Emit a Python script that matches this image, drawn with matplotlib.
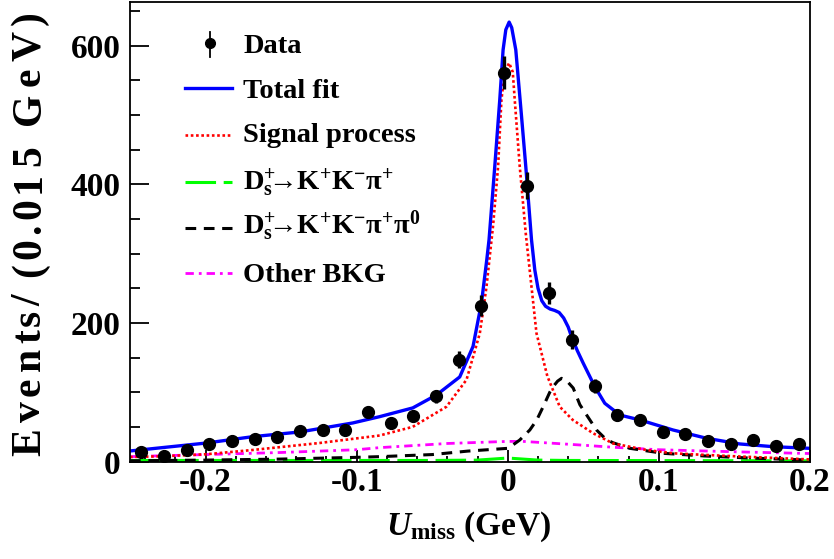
import numpy as np
import matplotlib
matplotlib.use("Agg")
import matplotlib.pyplot as plt
from matplotlib.lines import Line2D
from matplotlib.ticker import MultipleLocator
from matplotlib.font_manager import FontProperties

plt.rcParams['font.family'] = ['Liberation Serif', 'DejaVu Serif']
plt.rcParams['font.weight'] = 'bold'
plt.rcParams['axes.unicode_minus'] = False
plt.rcParams['mathtext.fontset'] = 'custom'
plt.rcParams['mathtext.rm'] = 'Liberation Serif:bold'
plt.rcParams['mathtext.bf'] = 'Liberation Serif:bold'
plt.rcParams['mathtext.it'] = 'Liberation Serif:italic:bold'
plt.rcParams['mathtext.fallback'] = 'stix'

# ---------------- data ----------------
bin_centers = [-0.2425 + 0.015 * i for i in range(30)]
counts = [14, 8, 17, 25, 30, 33, 36, 44, 46, 46, 71, 56, 65, 94, 147,
          225, 561, 398, 243, 176, 109, 67, 60, 42, 40, 30, 25, 31, 22, 25]

total_x = [-0.25, -0.2437, -0.1993, -0.1689, -0.1377, -0.1026, -0.0848, -0.0629,
           -0.0472, -0.0318, -0.0230, -0.0174, -0.0139, -0.0124, -0.0086, -0.0053,
           -0.0031, -0.0013, 0.0009, 0.0026, 0.0053, 0.0091, 0.0119, 0.0157, 0.0179,
           0.0200, 0.0225, 0.0250, 0.0280, 0.0310, 0.0340, 0.0370, 0.0400, 0.0422,
           0.0460, 0.0499, 0.0576, 0.0642, 0.0742,
           0.0874, 0.1093, 0.1316, 0.1536, 0.1755, 0.2]
total_y = [15.2, 16.6, 26.7, 35.8, 42.6, 55.6, 64.7, 77.3,
           96, 122, 166, 229, 291, 320, 426, 522,
           594, 623, 634, 626, 594, 498, 426, 320, 276,
           250, 232, 224, 220, 218, 215, 207, 194, 180,
           160, 142, 108, 84, 67,
           60, 45.5, 33.5, 25.3, 21.4, 19]

signal_x = [-0.25, -0.2285, -0.1993, -0.1689, -0.1245, -0.0848, -0.0629, -0.0406,
            -0.0273, -0.0185, -0.0141, -0.0097, -0.0064, -0.0042, -0.0020, 0.0009,
            0.0033, 0.0046, 0.0079, 0.0119, 0.0157, 0.0190, 0.0262, 0.0344, 0.0430,
            0.0565, 0.0697, 0.0919, 0.1095, 0.1316, 0.1536, 0.2]
signal_y = [6.5, 7.5, 10.5, 16.6, 26.7, 37.5, 50, 79,
            118, 185, 252, 341, 426, 522, 562, 575,
            562, 522, 426, 329, 252, 185, 123, 79, 60,
            40.7, 26, 16.6, 11.8, 9.4, 7.2, 3]

kkpi_x = [-0.25, -0.05, -0.02, -0.01, 0.0, 0.01, 0.02, 0.04, 0.2]
kkpi_y = [1.5, 1.5, 2, 3.5, 5, 3.5, 2, 1.5, 1]

kkpipi0_x = [-0.25, -0.2, -0.15, -0.1, -0.0848, -0.05, -0.0265, 0.0, 0.0035,
             0.0079, 0.0146, 0.0192, 0.0234, 0.0278, 0.0300, 0.0330, 0.0356, 0.0380,
             0.0400, 0.0433, 0.0477, 0.0519, 0.0587, 0.0650, 0.0697, 0.0808, 0.1029,
             0.13, 0.16, 0.2]
kkpipi0_y = [1, 2, 3.5, 6, 7, 10, 15, 19, 24,
             31, 45.5, 60, 79, 100, 108, 116, 120, 118,
             114, 106, 82, 68, 45.5, 32, 27, 19, 11.8,
             8, 5, 2]

other_x = [-0.25, -0.2, -0.15, -0.1, -0.0848, -0.04, 0.0, 0.01, 0.025, 0.048,
           0.07, 0.1, 0.13, 0.16, 0.2]
other_y = [7, 10, 13, 17, 20, 26, 29, 29, 27, 23.8,
           20.5, 17, 15.2, 13.5, 11.5]

legend_labels = ['Data', 'Total fit', 'Signal process',
                 r'D$_{\rm s}^{+}\!\!$→K$^{+}$K$^{-}$π$^{+}$',
                 r'D$_{\rm s}^{+}\!\!$→K$^{+}$K$^{-}$π$^{+}$π$^{0}$',
                 'Other BKG']
y_title = 'Events/ (0.015 GeV)'
x_title = r'$\mathit{U}_{\mathrm{miss}}$ (GeV)'

# ---------------- figure ----------------
W, H = 834, 559
fig = plt.figure(figsize=(W / 100, H / 100), dpi=100)
ax_l, ax_r, ax_t, ax_b = 130, 810, 2, 461.5
ax = fig.add_axes([ax_l / W, 1 - ax_b / H, (ax_r - ax_l) / W, (ax_b - ax_t) / H])

ax.plot(other_x, other_y, color='#ff00ff', lw=2.0, ls=(0, (3, 1.8, 1, 1.8)))
ax.plot(kkpi_x, kkpi_y, color='#00ff00', lw=2.2, ls=(0, (10, 2.5)))
ax.plot(kkpipi0_x, kkpipi0_y, color='black', lw=2.2, ls=(0, (3.5, 2.5)))
ax.plot(signal_x, signal_y, color='#ff0000', lw=1.9, ls=(0, (1, 1)))
ax.plot(total_x, total_y, color='#0000ff', lw=2.4)

err = np.sqrt(np.array(counts, dtype=float))
ax.errorbar(bin_centers, counts, yerr=err, fmt='o', color='black', ms=8.5,
            elinewidth=2.4, capsize=0, zorder=5)

ax.set_xlim(-0.25, 0.2)
ax.set_ylim(0, 663)
ax.xaxis.set_minor_locator(MultipleLocator(0.02))
ax.yaxis.set_minor_locator(MultipleLocator(50))
ax.set_xticks([-0.2, -0.1, 0, 0.1, 0.2])
ax.set_xticklabels(['-0.2', '-0.1', '0', '0.1', '0.2'])
ax.set_yticks([0, 200, 400, 600])
ax.set_yticklabels(['0', '200', '400', '600'])
ax.tick_params(axis='both', which='both', direction='in', labelsize=24, width=1.3)
ax.tick_params(axis='y', which='major', length=14, pad=7)
ax.tick_params(axis='y', which='minor', length=7)
ax.tick_params(axis='x', which='major', length=8.5, pad=4)
ax.tick_params(axis='x', which='minor', length=4.5)
for lab in ax.get_xticklabels() + ax.get_yticklabels():
    lab.set_fontweight('bold')
for s in ax.spines.values():
    s.set_linewidth(1.3)

fig.text(469 / W, 1 - 535 / H, x_title, fontsize=24,
         fontweight='bold', ha='center', va='baseline')

# y title: real text, characters spread over the reference's span
renderer = fig.canvas.get_renderer()
prop = FontProperties(family='Liberation Serif', weight='bold', size=30)
def advance(c):
    w1, _, _ = renderer.get_text_width_height_descent('|' + c + '|', prop, ismath=False)
    w0, _, _ = renderer.get_text_width_height_descent('||', prop, ismath=False)
    return w1 - w0
adv = [advance(c) for c in y_title]
natural = sum(adv)
y_start, y_end = 460.0, 9.0
scale = (y_start - y_end) / natural
pos = y_start
for c, a in zip(y_title, adv):
    if c != ' ':
        fig.text(40 / W, 1 - (pos - a * (scale - 1) / 2) / H, c, fontproperties=prop,
                 rotation=90, ha='left', va='baseline', rotation_mode='anchor')
    pos -= a * scale

# ---------------- legend ----------------
def fx(px):
    return (px - ax_l) / (ax_r - ax_l)

def fy(py):
    return (ax_b - py) / (ax_b - ax_t)

baselines = [53.3, 98.3, 141.7, 190, 233.3, 281.7]
handle_y = [43.3, 88.3, 135, 181.7, 228.3, 273.3]
styles = [None,
          dict(color='#0000ff', lw=2.4),
          dict(color='#ff0000', lw=1.9, ls=(0, (1, 1))),
          dict(color='#00ff00', lw=2.2, ls=(0, (10, 2.5))),
          dict(color='black', lw=2.2, ls=(0, (3.5, 2.5))),
          dict(color='#ff00ff', lw=2.0, ls=(0, (3, 1.8, 1, 1.8)))]
for lab, bl, hy, st in zip(legend_labels, baselines, handle_y, styles):
    ax.text(fx(243), fy(bl), lab, transform=ax.transAxes, fontsize=20.5,
            fontweight='bold', ha='left', va='baseline')
    if st is None:
        ax.add_line(Line2D([fx(210), fx(210)], [fy(31.7), fy(56.7)], color='black',
                           lw=1.3, transform=ax.transAxes))
        ax.add_line(Line2D([fx(210)], [fy(hy)], marker='o', ms=7, color='black',
                           transform=ax.transAxes))
    else:
        ax.add_line(Line2D([fx(185), fx(232)], [fy(hy), fy(hy)],
                           transform=ax.transAxes, **st))

fig.savefig('out.png', dpi=100)
